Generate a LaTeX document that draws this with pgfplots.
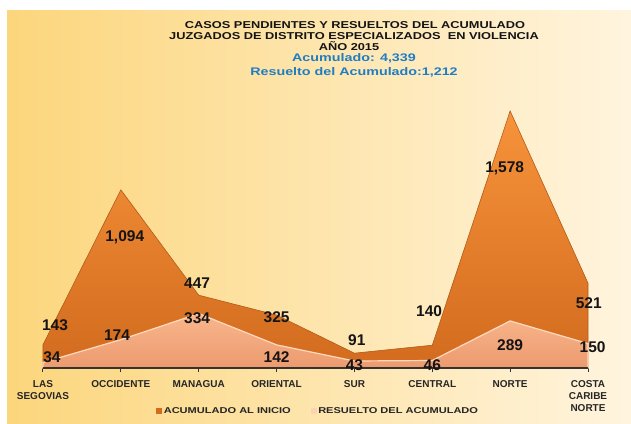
\documentclass[border=0pt]{standalone}
\usepackage{pgfplots}
\pgfplotsset{compat=1.18}
\usepackage{fontspec}
\setmainfont{Liberation Sans}
\definecolor{bgL}{HTML}{FCD67C}
\definecolor{bgR}{HTML}{FFF4DE}
\definecolor{accTop}{HTML}{F7933B}
\definecolor{accBot}{HTML}{D26B1E}
\definecolor{accLine}{HTML}{B25A18}
\definecolor{resTop}{HTML}{F9B68C}
\definecolor{resBot}{HTML}{EC9A6E}
\definecolor{resLine}{HTML}{FFD9BE}
\definecolor{blueT}{HTML}{1F7DC4}
\definecolor{txt}{HTML}{141414}
\newcommand{\lbl}[1]{\fontsize{15.5}{15.5}\selectfont\bfseries #1}
\begin{document}
\begin{tikzpicture}[x=1pt,y=1pt]
\useasboundingbox (0,0) rectangle (631,423);
\fill[white] (0,0) rectangle (631,423);
\shade[left color=bgL, right color=bgR] (7,0) rectangle (631,412);
% titles
\node[font=\fontsize{10}{10}\selectfont\bfseries, text=txt] at (355,398) {\scalebox{1.28}[1]{CASOS PENDIENTES Y RESUELTOS DEL ACUMULADO}};
\node[font=\fontsize{10}{10}\selectfont\bfseries, text=txt] at (354,387) {\scalebox{1.28}[1]{JUZGADOS DE DISTRITO ESPECIALIZADOS\ \ EN VIOLENCIA}};
\node[font=\fontsize{10}{10}\selectfont\bfseries, text=txt] at (349,377) {\scalebox{1.28}[1]{AÑO 2015}};
\node[font=\fontsize{11}{11}\selectfont\bfseries, text=blueT] at (354,365) {\scalebox{1.3}[1]{Acumulado: 4,339}};
\node[font=\fontsize{11}{11}\selectfont\bfseries, text=blueT] at (354,351) {\scalebox{1.3}[1]{Resuelto del Acumulado:1,212}};
\begin{axis}[
  at={(43pt,55pt)}, anchor=south west,
  scale only axis, width=545pt, height=257pt,
  xmin=0, xmax=7, ymin=0, ymax=1578,
  clip=false,
  axis x line*=bottom, axis y line=none,
  x axis line style={-, line width=1.3pt, color=black!80},
  xtick={0,1,2,3,4,5,6,7},
  xticklabels={{LAS\\SEGOVIAS},OCCIDENTE,MANAGUA,ORIENTAL,SUR,CENTRAL,NORTE,{COSTA\\CARIBE\\NORTE}},
  xtick align=outside, major tick length=4pt,
  xtick style={line width=1pt, color=black!80},
  xticklabel style={font=\fontsize{10}{12}\selectfont\bfseries, text=black!85, align=center, anchor=north, yshift=-5pt},
  ytick=\empty,
  legend columns=2,
  legend style={at={(0.505,-0.167)}, anchor=center, draw=none, fill=none,
    font=\fontsize{8.5}{8.5}\selectfont\bfseries, text=black!85,
    /tikz/every even column/.append style={column sep=18pt}},
]
\addplot[draw=accLine, line width=0.6pt, top color=accTop, bottom color=accBot, forget plot]
  coordinates {(0,143)(1,1094)(2,447)(3,325)(4,91)(5,140)(6,1578)(7,521)} \closedcycle;
\addplot[draw=resLine, line width=1.2pt, top color=resTop, bottom color=resBot, forget plot]
  coordinates {(0,34)(1,174)(2,334)(3,142)(4,43)(5,46)(6,289)(7,150)} \closedcycle;
\draw[line width=1.3pt, color=black!80] (axis cs:0,0) -- (axis cs:7,0);
\addlegendimage{legend image code/.code={\fill[accBot] (0pt,-2.5pt) rectangle (5pt,2.5pt);}}
\addlegendentry{\scalebox{1.3}[1]{ACUMULADO AL INICIO}}
\addlegendimage{legend image code/.code={\fill[resLine!80!resTop] (0pt,-2.5pt) rectangle (5pt,2.5pt);}}
\addlegendentry{\scalebox{1.3}[1]{RESUELTO DEL ACUMULADO}}
% data labels
\node[text=txt] at (axis cs:0.154,264) {\lbl{143}};
\node[text=txt] at (axis cs:1.05,804) {\lbl{1,094}};
\node[text=txt] at (axis cs:1.98,522) {\lbl{447}};
\node[text=txt] at (axis cs:3.0,313) {\lbl{325}};
\node[text=txt] at (axis cs:4.03,172) {\lbl{91}};
\node[text=txt] at (axis cs:4.96,350) {\lbl{140}};
\node[text=txt] at (axis cs:5.93,1228) {\lbl{1,578}};
\node[text=txt] at (axis cs:7.01,399) {\lbl{521}};
\node[text=txt] at (axis cs:0.115,68) {\lbl{34}};
\node[text=txt] at (axis cs:0.95,203) {\lbl{174}};
\node[text=txt] at (axis cs:1.98,307) {\lbl{334}};
\node[text=txt] at (axis cs:3.0,68) {\lbl{142}};
\node[text=txt] at (axis cs:4.0,18) {\lbl{43}};
\node[text=txt] at (axis cs:5.0,18) {\lbl{46}};
\node[text=txt] at (axis cs:6.0,141) {\lbl{289}};
\node[text=txt] at (axis cs:7.06,129) {\lbl{150}};
\end{axis}
\end{tikzpicture}
\end{document}
